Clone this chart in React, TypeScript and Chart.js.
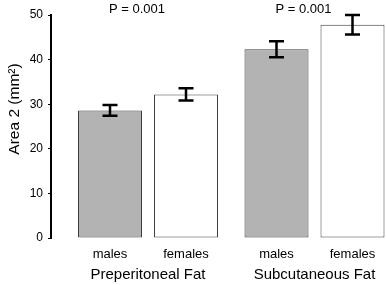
import React, { useEffect, useRef } from "react";
import { Chart, registerables } from "chart.js";

Chart.register(...registerables);

const groups = ["Preperitoneal Fat", "Subcutaneous Fat"];
const sexes = ["males", "females"];
const maleMeans = [28.6, 42.3];
const maleErrors = [1.2, 1.8];
const femaleMeans = [32.2, 47.8];
const femaleErrors = [1.35, 2.2];
const pValues = ["P = 0.001", "P = 0.001"];
const yTicks = [0, 10, 20, 30, 40, 50];
const yTitle = "Area 2 (mm²)";

const FONT = '"Liberation Sans", Arial, Helvetica, sans-serif';
const X_MIN = -0.5826;
const X_MAX = 1.4294;

export default function App() {
  const ref = useRef<HTMLCanvasElement>(null);

  useEffect(() => {
    document.body.style.margin = "0";
    const errors = [maleErrors, femaleErrors];

    const overlay = {
      id: "overlay",
      afterDatasetsDraw(chart: any) {
        const ctx = chart.ctx as CanvasRenderingContext2D;
        const ys = chart.scales.y;
        const xs = chart.scales.x;
        const area = chart.chartArea;
        ctx.save();
        ctx.strokeStyle = "#000";
        ctx.lineWidth = 2.5;
        chart.data.datasets.forEach((ds: any, di: number) => {
          const meta = chart.getDatasetMeta(di);
          meta.data.forEach((el: any, i: number) => {
            const v = ds.data[i];
            const e = errors[di][i];
            const top = ys.getPixelForValue(v + e);
            const bot = ys.getPixelForValue(v - e);
            ctx.beginPath();
            ctx.moveTo(el.x, top);
            ctx.lineTo(el.x, bot);
            ctx.moveTo(el.x - 7.5, top);
            ctx.lineTo(el.x + 7.5, top);
            ctx.moveTo(el.x - 7.5, bot);
            ctx.lineTo(el.x + 7.5, bot);
            ctx.stroke();
          });
        });

        ctx.fillStyle = "#000";
        ctx.font = `13px ${FONT}`;
        ctx.textAlign = "center";
        ctx.textBaseline = "alphabetic";
        chart.data.datasets.forEach((ds: any, di: number) => {
          chart.getDatasetMeta(di).data.forEach((el: any) => {
            ctx.fillText(ds.label, el.x, area.bottom + 20);
          });
        });

        pValues.forEach((p, i) => {
          ctx.fillText(p, xs.getPixelForValue(i) - 11, 13);
        });

        ctx.font = `15.5px ${FONT}`;
        ctx.translate(14.5, (area.top + area.bottom) / 2 - 17.5);
        ctx.rotate(-Math.PI / 2);
        ctx.textBaseline = "middle";
        ctx.fillText(yTitle, 0, 0);
        ctx.restore();
      },
    };

    const chart = new Chart(ref.current!, {
      type: "bar",
      data: {
        labels: groups,
        datasets: [
          {
            label: sexes[0],
            data: maleMeans,
            backgroundColor: "#b3b3b3",
            borderColor: "#3d3d3d",
            borderWidth: 1,
            borderSkipped: false,
          },
          {
            label: sexes[1],
            data: femaleMeans,
            backgroundColor: "#ffffff",
            borderColor: "#3d3d3d",
            borderWidth: 1,
            borderSkipped: false,
          },
        ],
      },
      options: {
        animation: false,
        responsive: false,
        devicePixelRatio: 1,
        layout: { padding: { top: 15, right: 0, left: 0, bottom: 0 } },
        categoryPercentage: 0.913,
        barPercentage: 0.842,
        plugins: {
          legend: { display: false },
          tooltip: { enabled: false },
          title: { display: false },
        },
        scales: {
          x: {
            type: "category",
            grid: { display: false, drawTicks: false },
            border: { display: false },
            ticks: {
              color: "#000",
              font: { family: FONT, size: 15 },
              padding: 28,
              maxRotation: 0,
              autoSkip: false,
            },
            afterBuildTicks: (scale: any) => {
              scale._startValue = X_MIN;
              scale._valueRange = X_MAX - X_MIN;
            },
            afterFit: (scale: any) => {
              scale.height = 47;
              scale.paddingLeft = 0;
              scale.paddingRight = 0;
            },
          },
          y: {
            min: 0,
            max: 50,
            afterBuildTicks: (scale: any) => {
              scale.ticks = yTicks.map((v) => ({ value: v }));
            },
            afterFit: (scale: any) => {
              scale.width = 51;
              scale.paddingTop = 0;
              scale.paddingBottom = 0;
            },
            grid: {
              drawOnChartArea: false,
              drawTicks: true,
              tickLength: 3,
              color: "#000",
              lineWidth: 1,
            },
            border: { display: true, color: "#000", width: 2 },
            ticks: {
              color: "#000",
              font: { family: FONT, size: 12 },
              padding: 5,
            },
          },
        },
      },
      plugins: [overlay],
    } as any);

    return () => chart.destroy();
  }, []);

  return (
    <div style={{ width: 386, height: 285 }}>
      <canvas ref={ref} width={386} height={285} />
    </div>
  );
}
